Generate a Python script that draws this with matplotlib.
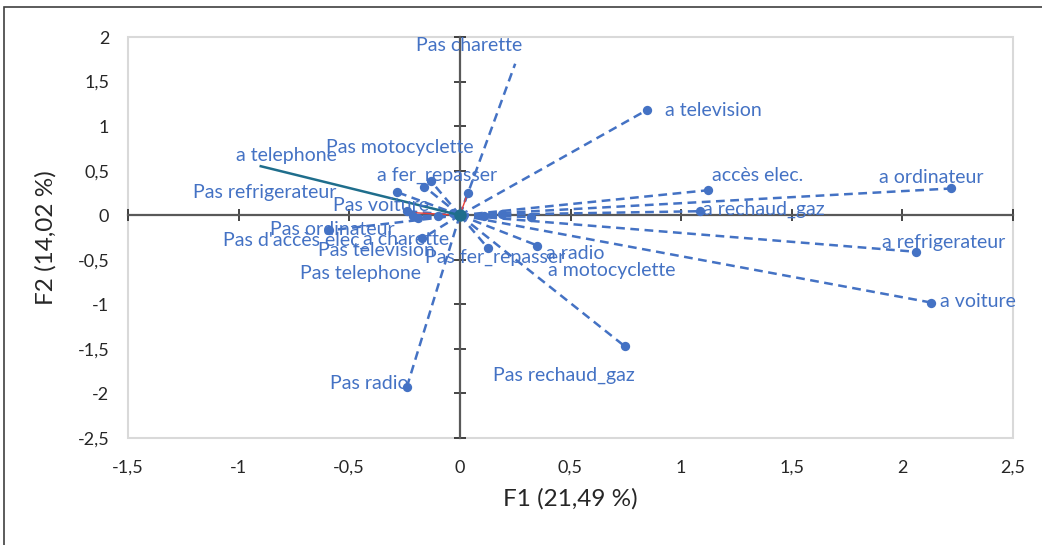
import matplotlib
matplotlib.use("Agg")
import matplotlib.pyplot as plt
from matplotlib.patches import Rectangle
from matplotlib.ticker import FuncFormatter, MultipleLocator

# modalités et coordonnées (F1, F2)
labels = ["a television", "accès elec.", "a ordinateur", "a rechaud_gaz",
          "a refrigerateur", "a voiture", "a radio", "a motocyclette",
          "Pas rechaud_gaz", "Pas radio", "Pas motocyclette", "a fer_repasser",
          "Pas refrigerateur", "Pas voiture", "Pas ordinateur", "Pas d'accès elec_",
          "a charette", "Pas television", "Pas telephone", "Pas fer_repasser"]
f1 = [0.845, 1.12, 2.22, 1.085, 2.06, 2.13, 0.35, 0.32,
      0.745, -0.24, -0.13, -0.16, -0.285, -0.24, -0.59, -0.19,
      -0.17, -0.21, 0.11, 0.127]
f2 = [1.18, 0.28, 0.30, 0.045, -0.41, -0.98, -0.34, -0.02,
      -1.47, -1.93, 0.38, 0.32, 0.26, 0.045, -0.17, -0.03,
      -0.26, -0.01, -0.01, -0.37]

# Pas charette: trait seul, sans marqueur
charette_x, charette_y = 0.25, 1.70
# a telephone: trait plein
tel_x, tel_y = -0.90, 0.55
# points sans étiquette au centre
autres_x = [0.036, -0.10, -0.03, 0.19]
autres_y = [0.25, -0.01, 0.02, 0.01]
# traits rouges
rouge_x = [0.036, -0.22]
rouge_y = [0.25, 0.03]

# décalage des étiquettes (pixels)
offsets = [(18, 0), (4, 15), (-72, 11), (3, 2), (-34, 9), (9, 1), (9, -8), (17, -53),
           (-132, -29), (-77, 4), (-105, 34), (-47, 11), (-204, 0), (-74, 6),
           (-59, 1), (-195, -22), (-59, -1), (-95, -34), (-184, -57), (-63, -9)]

blue = "#4472C4"
teal = "#1F6E8C"
txt = "#262626"
lab_size = 14
plt.rcParams["font.family"] = ["Lato", "DejaVu Sans"]

fig = plt.figure(figsize=(10.42, 5.45), dpi=100)
ax = fig.add_axes([128/1042, 1-438/545, (1013-128)/1042, (438-37)/545])
fig.patches.append(Rectangle((4/1042, -0.1), 1.2, 1.1-7/545, transform=fig.transFigure,
                             fill=False, edgecolor="#404040", lw=1.2))

dash = (0, (3.5, 2.2))
for x, y in zip(f1, f2):
    ax.plot([0, x], [0, y], color=blue, lw=1.8, ls=dash, zorder=3)
ax.plot([0, charette_x], [0, charette_y], color=blue, lw=1.8, ls=dash, zorder=3)
for x, y in zip(autres_x, autres_y):
    ax.plot([0, x], [0, y], color=blue, lw=1.8, ls=dash, zorder=3)
for x, y in zip(rouge_x, rouge_y):
    ax.plot([0, x], [0, y], color="#E8403A", lw=1.0, zorder=4)
ax.scatter(f1, f2, s=45, color=blue, zorder=5, linewidths=0)
ax.scatter(autres_x, autres_y, s=45, color=blue, zorder=5, linewidths=0)
ax.plot([0, tel_x], [0, tel_y], color=teal, lw=1.8, zorder=6)
ax.scatter([0], [0], s=80, color=teal, zorder=7, linewidths=0)

for lab, x, y, off in zip(labels, f1, f2, offsets):
    ax.annotate(lab, (x, y), xytext=off, textcoords="offset pixels",
                ha="left", va="center", color=blue, fontsize=lab_size, zorder=8)
ax.annotate("Pas charette", (charette_x, charette_y), xytext=(-99, 18),
            textcoords="offset pixels", ha="left", va="center", color=blue, fontsize=lab_size)
ax.annotate("a telephone", (tel_x, tel_y), xytext=(-25, 11),
            textcoords="offset pixels", ha="left", va="center", color=blue, fontsize=lab_size)

ax.set_xlim(-1.5, 2.5)
ax.set_ylim(-2.5, 2)
ax.xaxis.set_major_locator(MultipleLocator(0.5))
ax.yaxis.set_major_locator(MultipleLocator(0.5))
fmt = FuncFormatter(lambda v, p: f"{v:g}".replace(".", ","))
ax.xaxis.set_major_formatter(fmt)
ax.yaxis.set_major_formatter(fmt)

# axes en zéro avec graduations croisées, étiquettes au bord
for s in ["bottom", "left"]:
    ax.spines[s].set_visible(False)
ax.spines["top"].set_position(("data", 0))
ax.spines["right"].set_position(("data", 0))
for s in ["top", "right"]:
    ax.spines[s].set_color("#595959")
    ax.spines[s].set_linewidth(1.6)
    ax.spines[s].set_zorder(2)
ax.patch.set_edgecolor("#D9D9D9")
ax.patch.set_linewidth(1.5)
ax.tick_params(axis="x", bottom=False, top=True, labelbottom=True, labeltop=False,
               direction="inout", length=9, width=1.2, color=txt,
               labelsize=13, labelcolor=txt, pad=11)
ax.tick_params(axis="y", left=False, right=True, labelleft=True, labelright=False,
               direction="inout", length=9, width=1.2, color=txt,
               labelsize=13, labelcolor=txt, pad=9)

ax.set_xlabel("F1 (21,49 %)", fontsize=17.5, color=txt, labelpad=9)
ax.set_ylabel("F2 (14,02 %)", fontsize=17.5, color=txt, labelpad=15)

fig.savefig("out.png", dpi=100)
